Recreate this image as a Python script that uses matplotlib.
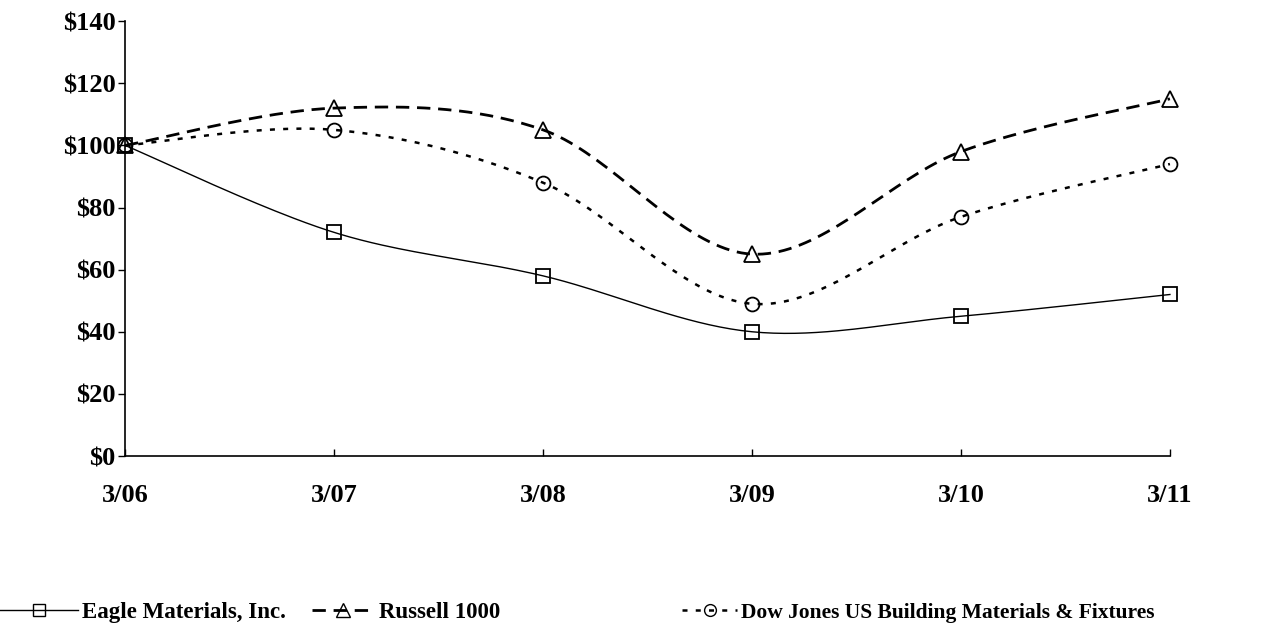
import matplotlib
matplotlib.use('Agg')
import matplotlib.pyplot as plt
from matplotlib.lines import Line2D
import numpy as np

# 字体: Times 风格的粗体衬线
plt.rcParams['font.family'] = ['Liberation Serif', 'DejaVu Serif']
plt.rcParams['font.weight'] = 'bold'

years = ['3/06', '3/07', '3/08', '3/09', '3/10', '3/11']
eagle = [100, 72, 58, 40, 45, 52]
russell = [100, 112, 105, 65, 98, 115]
dowjones = [100, 105, 88, 49, 77, 94]
y_ticks = [0, 20, 40, 60, 80, 100, 120, 140]

names = ['Eagle Materials, Inc.', 'Russell 1000',
         'Dow Jones US Building Materials & Fixtures']


def smooth(xs, ys, n=40):
    # Excel 风格平滑线 (Catmull-Rom / Bezier)
    xs = np.asarray(xs, float)
    ys = np.asarray(ys, float)
    px = np.concatenate([[xs[0]], xs, [xs[-1]]])
    py = np.concatenate([[ys[0]], ys, [ys[-1]]])
    out_x, out_y = [], []
    t = np.linspace(0, 1, n)
    for i in range(1, len(px) - 2):
        p0 = np.array([px[i], py[i]])
        p3 = np.array([px[i + 1], py[i + 1]])
        p1 = p0 + (np.array([px[i + 1], py[i + 1]]) - np.array([px[i - 1], py[i - 1]])) / 6
        p2 = p3 - (np.array([px[i + 2], py[i + 2]]) - np.array([px[i], py[i]])) / 6
        b = ((1 - t) ** 3)[:, None] * p0 + (3 * (1 - t) ** 2 * t)[:, None] * p1 \
            + (3 * (1 - t) * t ** 2)[:, None] * p2 + (t ** 3)[:, None] * p3
        out_x.extend(b[:, 0])
        out_y.extend(b[:, 1])
    return out_x, out_y


fig = plt.figure(figsize=(12.8, 6.41), dpi=100)
ax = fig.add_axes([0.0977, 0.2886, 0.8163, 0.6784])

x = np.arange(len(years))

styles = [
    dict(color='black', lw=1.0, ls='-', marker='s', ms=10.5),
    dict(color='black', lw=2.0, ls=(0, (4.8, 2.8)), marker='^', ms=11.5),
    dict(color='black', lw=1.8, ls=(0, (2, 3.3)), marker='o', ms=10),
]

for vals, st in zip([eagle, russell, dowjones], styles):
    sx, sy = smooth(x, vals)
    ax.plot(sx, sy, color=st['color'], lw=st['lw'], ls=st['ls'], clip_on=False)
    ax.plot(x, vals, ls='none', marker=st['marker'], ms=st['ms'],
            mfc='none', mec='black', mew=1.3, clip_on=False)

ax.set_xlim(0, len(years) - 1)
ax.set_ylim(0, 140)
ax.set_yticks(y_ticks)
ax.set_yticklabels(['$%d' % v for v in y_ticks], fontsize=19, fontweight='bold')
ax.set_xticks(x)
ax.set_xticklabels(years, fontsize=19, fontweight='bold')
ax.tick_params(axis='y', direction='out', length=5, width=1, pad=2)
ax.tick_params(axis='x', direction='in', length=5, width=1, pad=20)
for s in ['top', 'right']:
    ax.spines[s].set_visible(False)
for s in ['left', 'bottom']:
    ax.spines[s].set_linewidth(1.2)

# 图例: 三个独立条目
leg_x = [0.0, 0.2435, 0.533]
hl = [3.4, 2.75, 2.55]
leg_size = [16.5, 16.5, 15.5]
for i in range(3):
    st = styles[i]
    h = Line2D([], [], color='black', lw=st['lw'], ls=st['ls'], marker=st['marker'],
               ms=st['ms'] * 0.85, mfc='none', mec='black', mew=1.0)
    fig.legend([h], [names[i]], loc='center left', bbox_to_anchor=(leg_x[i], 0.044),
               frameon=False, borderpad=0, borderaxespad=0, handlelength=hl[i],
               handletextpad=0.17, prop={'size': leg_size[i], 'weight': 'bold'})

plt.savefig('out.png', dpi=100)
plt.close()
